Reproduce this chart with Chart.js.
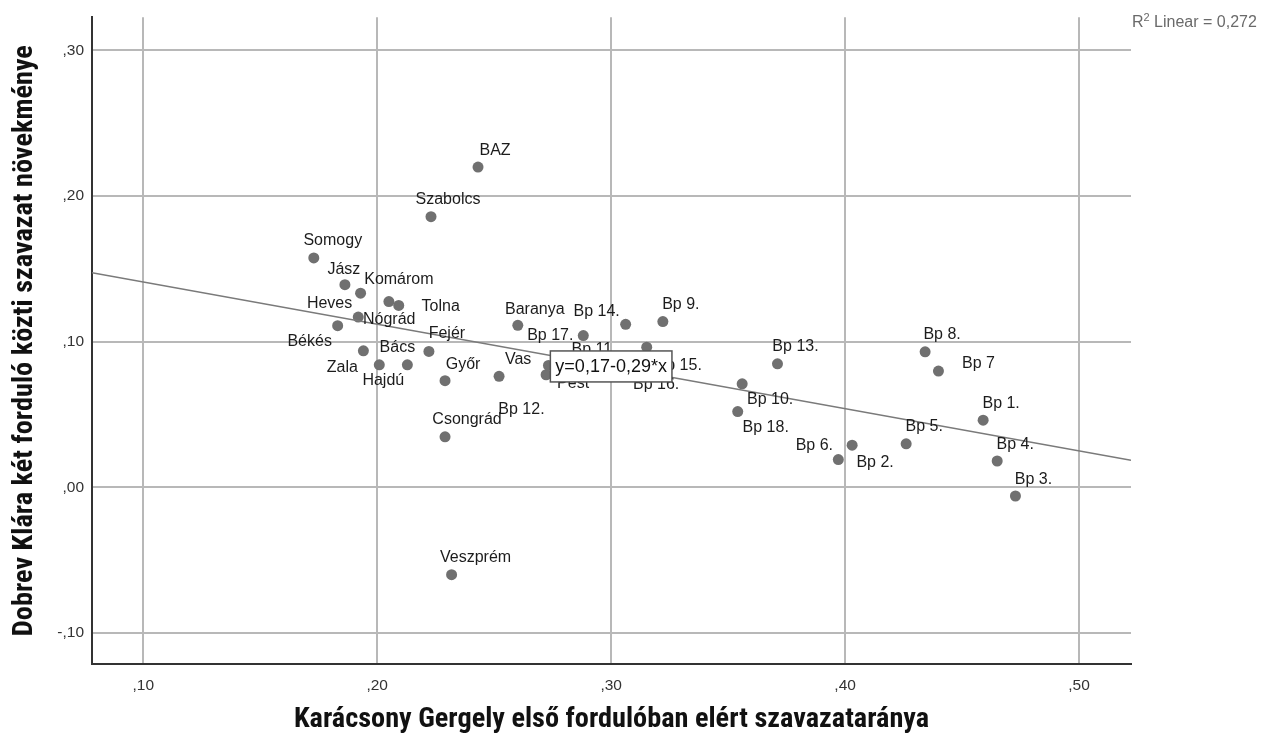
<!DOCTYPE html>
<html>
<head>
<meta charset="utf-8">
<script src="https://cdn.jsdelivr.net/npm/chart.js@4.4.1/dist/chart.umd.min.js"></script>
<style>
html,body{margin:0;padding:0;background:#fff;}
#wrap{width:1262px;height:740px;position:relative;}
</style>
</head>
<body>
<div id="wrap"><canvas id="c"></canvas></div>
<script>
// ---- data ----
const names = ['Somogy','Szabolcs','BAZ','Jász','Heves','Komárom','Tolna','Nógrád','Békés','Zala','Hajdú','Bács','Fejér','Győr','Csongrád','Veszprém','Vas','Baranya','Pest',
  'Bp 1.','Bp 2.','Bp 3.','Bp 4.','Bp 5.','Bp 6.','Bp 7','Bp 8.','Bp 9.','Bp 10.','Bp 11.','Bp 12.','Bp 13.','Bp 14.','Bp 15.','Bp 16.','Bp 17.','Bp 18.'];
const xValues = [0.1729,0.2230,0.2431,0.1862,0.1929,0.2050,0.2092,0.1919,0.1831,0.1941,0.2009,0.2129,0.2221,0.2290,0.2290,0.2318,0.2521,0.2601,0.2722,
  0.4590,0.4030,0.4728,0.4650,0.4261,0.3971,0.4399,0.4342,0.3221,0.3560,0.2850,0.2732,0.3711,0.3062,0.3152,0.3111,0.2881,0.3541];
const yValues = [0.1575,0.1858,0.2198,0.1391,0.1333,0.1275,0.1249,0.1169,0.1110,0.0937,0.0841,0.0841,0.0933,0.0732,0.0347,-0.0599,0.0762,0.1112,0.0773,
  0.0461,0.0290,-0.0059,0.0181,0.0299,0.0191,0.0798,0.0930,0.1138,0.0711,0.0832,0.0837,0.0848,0.1119,0.0962,0.0818,0.1042,0.0520];
const xTicks = [0.1,0.2,0.3,0.4,0.5];
const xTickLabels = [',10',',20',',30',',40',',50'];
const yTicks = [-0.1,0,0.1,0.2,0.3];
const yTickLabels = ['-,10',',00',',10',',20',',30'];
const fitIntercept = 0.17;
const fitSlope = -0.29;
const fitEquation = 'y=0,17-0,29*x';
const rSquared = '0,272';
const xTitle = 'Karácsony Gergely első fordulóban elért szavazataránya';
const yTitle = 'Dobrev Klára két forduló közti szavazat növekménye';

// ---- layout / style ----
const xRange = [0.0781, 0.5222];
const yRange = [-0.1212, 0.3226];
const eqAnchorX = 0.30;
const labelOffsets = [[19,-17],[17,-17],[17,-17],[-1,-15],[-31,10],[10,-22],[42,1],[31,3],[-28,16],[-21,17],[4,16],[-10,-17],[18,-18],[18,-16],[22,-17],[24,-17],[19,-17],[17,-16],[27,9],
  [18,-17],[23,17],[18,-16],[18,-16],[18,-17],[-24,-14],[40,-8],[17,-17],[18,-17],[28,16],[18,-17],[-27,44],[18,-17],[-29,-13],[32,18],[19,16],[-33,0],[28,16]];
const textFont = '"Liberation Sans", Arial, sans-serif';
const titleFamily = '"Roboto Condensed", "Liberation Sans Narrow", "DejaVu Sans Condensed", sans-serif';

// size the title font so its width matches the reference
const mctx = document.createElement('canvas').getContext('2d');
mctx.font = 'bold 24px ' + titleFamily;
const titleSize = Math.round(24 * 635 / mctx.measureText(xTitle).width * 10) / 10;
const titleLH = titleSize * 1.2;

const points = xValues.map((x, i) => ({x, y: yValues[i]}));
const fitLine = xRange.map(x => ({x, y: fitIntercept + fitSlope * x}));

const overlay = {
  id: 'overlay',
  afterDatasetsDraw(chart) {
    const ctx = chart.ctx;
    const meta = chart.getDatasetMeta(1);
    ctx.save();
    ctx.font = '16px ' + textFont;
    ctx.fillStyle = '#1c1c1c';
    ctx.textAlign = 'center';
    ctx.textBaseline = 'middle';
    meta.data.forEach((el, i) => {
      const o = labelOffsets[i];
      ctx.fillText(names[i], el.x + o[0], el.y + o[1]);
    });
    // equation box
    const xs = chart.scales.x, ys = chart.scales.y;
    const bx = xs.getPixelForValue(eqAnchorX);
    const by = ys.getPixelForValue(fitIntercept + fitSlope * eqAnchorX);
    ctx.font = '18px ' + textFont;
    const w = ctx.measureText(fitEquation).width + 10;
    const h = 31;
    ctx.fillStyle = '#fff';
    ctx.fillRect(bx - w / 2, by - h / 2, w, h);
    ctx.strokeStyle = '#555';
    ctx.lineWidth = 1.5;
    ctx.strokeRect(bx - w / 2, by - h / 2, w, h);
    ctx.fillStyle = '#111';
    ctx.fillText(fitEquation, bx, by + 1);
    // R squared note
    const rx = chart.chartArea.right + 1;
    ctx.textAlign = 'left';
    ctx.textBaseline = 'alphabetic';
    ctx.fillStyle = '#6a6a6a';
    ctx.font = '16px ' + textFont;
    ctx.fillText('R', rx, 27);
    let px = rx + ctx.measureText('R').width;
    ctx.font = '11px ' + textFont;
    ctx.fillText('2', px, 21);
    px += ctx.measureText('2').width;
    ctx.font = '16px ' + textFont;
    ctx.fillText(' Linear = ' + rSquared, px, 27);
    ctx.restore();
  }
};

new Chart(document.getElementById('c'), {
  type: 'scatter',
  data: {
    datasets: [
      {
        type: 'line',
        data: fitLine,
        borderColor: '#7a7a7a',
        borderWidth: 1.5,
        pointRadius: 0,
        fill: false,
        order: 1
      },
      {
        data: points,
        backgroundColor: '#707070',
        borderWidth: 0,
        pointRadius: 5.5,
        order: 2
      }
    ]
  },
  options: {
    responsive: true,
    maintainAspectRatio: false,
    animation: false,
    layout: {padding: {top: 14, right: 131, left: 0, bottom: 0}},
    plugins: {legend: {display: false}, tooltip: {enabled: false}},
    scales: {
      x: {
        type: 'linear',
        min: xRange[0], max: xRange[1],
        afterFit: s => { s.height = 76; },
        afterBuildTicks: s => { s.ticks = xTicks.map(v => ({value: v})); },
        grid: {color: '#b8b8b8', lineWidth: 2, drawTicks: false},
        border: {display: true, color: '#333', width: 2},
        ticks: {
          font: {family: textFont, size: 15.5},
          color: '#333',
          padding: 12,
          maxRotation: 0,
          callback: (v, i) => xTickLabels[i]
        },
        title: {
          display: true,
          text: xTitle,
          color: '#111',
          font: {family: titleFamily, size: titleSize, weight: 'bold'},
          padding: {top: 0, bottom: Math.max(0, 20 - titleLH / 2)}
        }
      },
      y: {
        type: 'linear',
        min: yRange[0], max: yRange[1],
        afterFit: s => { s.width = 92; },
        afterBuildTicks: s => { s.ticks = yTicks.map(v => ({value: v})); },
        grid: {color: '#b8b8b8', lineWidth: 2, drawTicks: false},
        border: {display: true, color: '#333', width: 2},
        ticks: {
          font: {family: textFont, size: 15.5},
          color: '#333',
          padding: 8,
          callback: (v, i) => yTickLabels[i]
        },
        title: {
          display: true,
          text: yTitle,
          color: '#111',
          font: {family: titleFamily, size: titleSize, weight: 'bold'},
          padding: {top: Math.max(0, 25 - titleLH / 2), bottom: 0}
        }
      }
    }
  },
  plugins: [overlay]
});
</script>
</body>
</html>
